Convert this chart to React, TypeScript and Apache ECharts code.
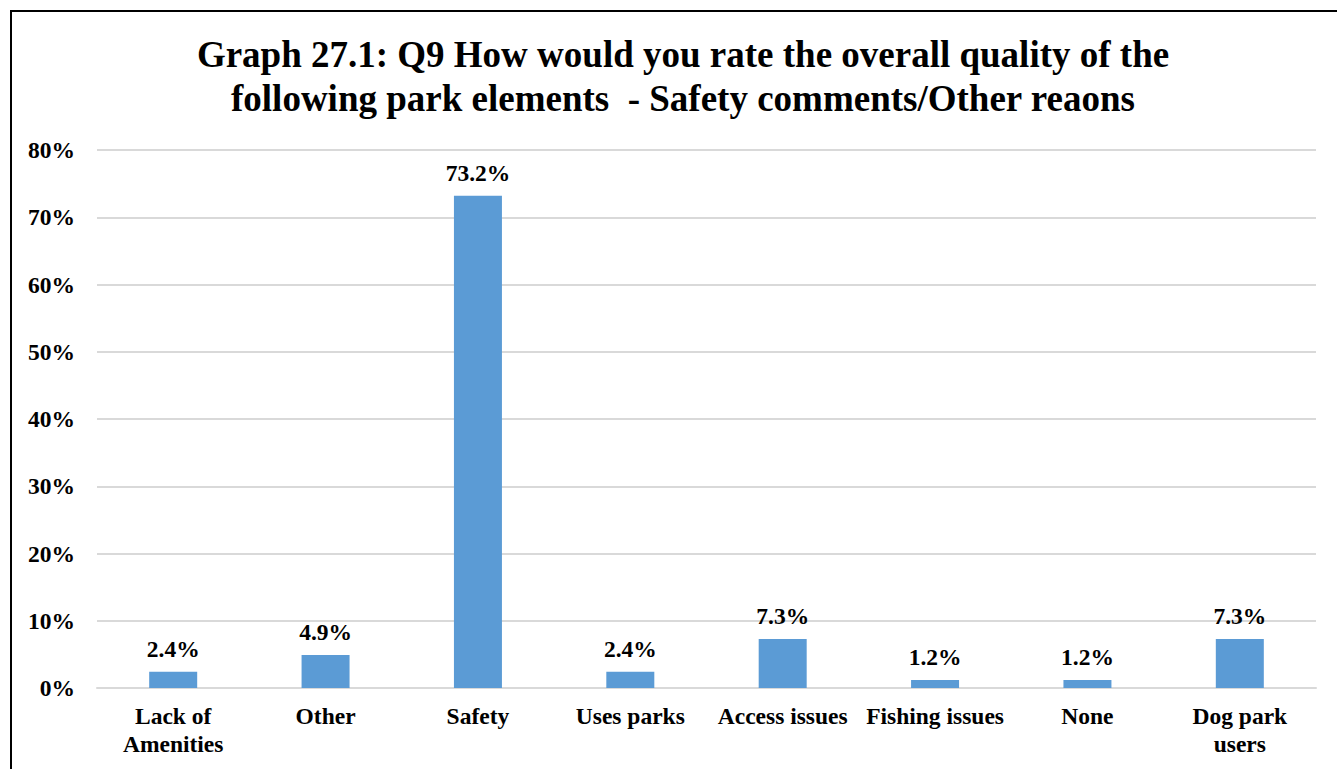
import React, { useEffect, useRef } from "react";
import * as echarts from "echarts";

const categories = ["Lack of\nAmenities", "Other", "Safety", "Uses parks", "Access issues", "Fishing issues", "None", "Dog park\nusers"];
const values = [2.4, 4.9, 73.2, 2.4, 7.3, 1.2, 1.2, 7.3];
const titleText = "Graph 27.1: Q9 How would you rate the overall quality of the\nfollowing park elements  - Safety comments/Other reaons";

export default function App() {
  const ref = useRef<HTMLDivElement>(null);
  useEffect(() => {
    const chart = echarts.init(ref.current!, null, { renderer: "svg" });
    const font = "Times New Roman, Liberation Serif, serif";
    chart.setOption({
      animation: false,
      backgroundColor: "#ffffff",
      textStyle: { fontFamily: font },
      graphic: [
        {
          type: "rect",
          shape: { x: 11, y: 11, width: 1400, height: 800 },
          style: { fill: "none", stroke: "#000000", lineWidth: 2 },
          silent: true,
        },
      ],
      title: {
        text: titleText,
        left: 678,
        textAlign: "center",
        top: 27,
        textStyle: { fontFamily: font, fontSize: 37, fontWeight: "bold", color: "#000", lineHeight: 44 },
      },
      grid: { left: 97, right: 21, top: 150, bottom: 81, containLabel: false },
      xAxis: {
        type: "category",
        data: categories,
        axisTick: { show: false },
        axisLine: { lineStyle: { color: "#d9d9d9", width: 2 } },
        axisLabel: { color: "#000", fontFamily: font, fontSize: 23.5, fontWeight: "bold", lineHeight: 28, margin: 14, interval: 0 },
      },
      yAxis: {
        type: "value",
        min: 0,
        max: 80,
        interval: 10,
        axisLabel: { formatter: "{value}%", color: "#000", fontFamily: font, fontSize: 23.5, fontWeight: "bold", margin: 22 },
        splitLine: { lineStyle: { color: "#d9d9d9", width: 2 } },
        axisLine: { show: false },
        axisTick: { show: false },
      },
      series: [
        {
          type: "bar",
          data: values,
          barWidth: 48,
          itemStyle: { color: "#5b9bd5" },
          label: {
            show: true,
            position: "top",
            distance: 11,
            formatter: (p: any) => p.value.toFixed(1) + "%",
            color: "#000",
            fontFamily: font,
            fontSize: 23.5,
            fontWeight: "bold",
          },
        },
      ],
    });
    return () => chart.dispose();
  }, []);
  return <div ref={ref} style={{ position: "absolute", left: 0, top: 0, width: 1337, height: 769 }} />;
}
